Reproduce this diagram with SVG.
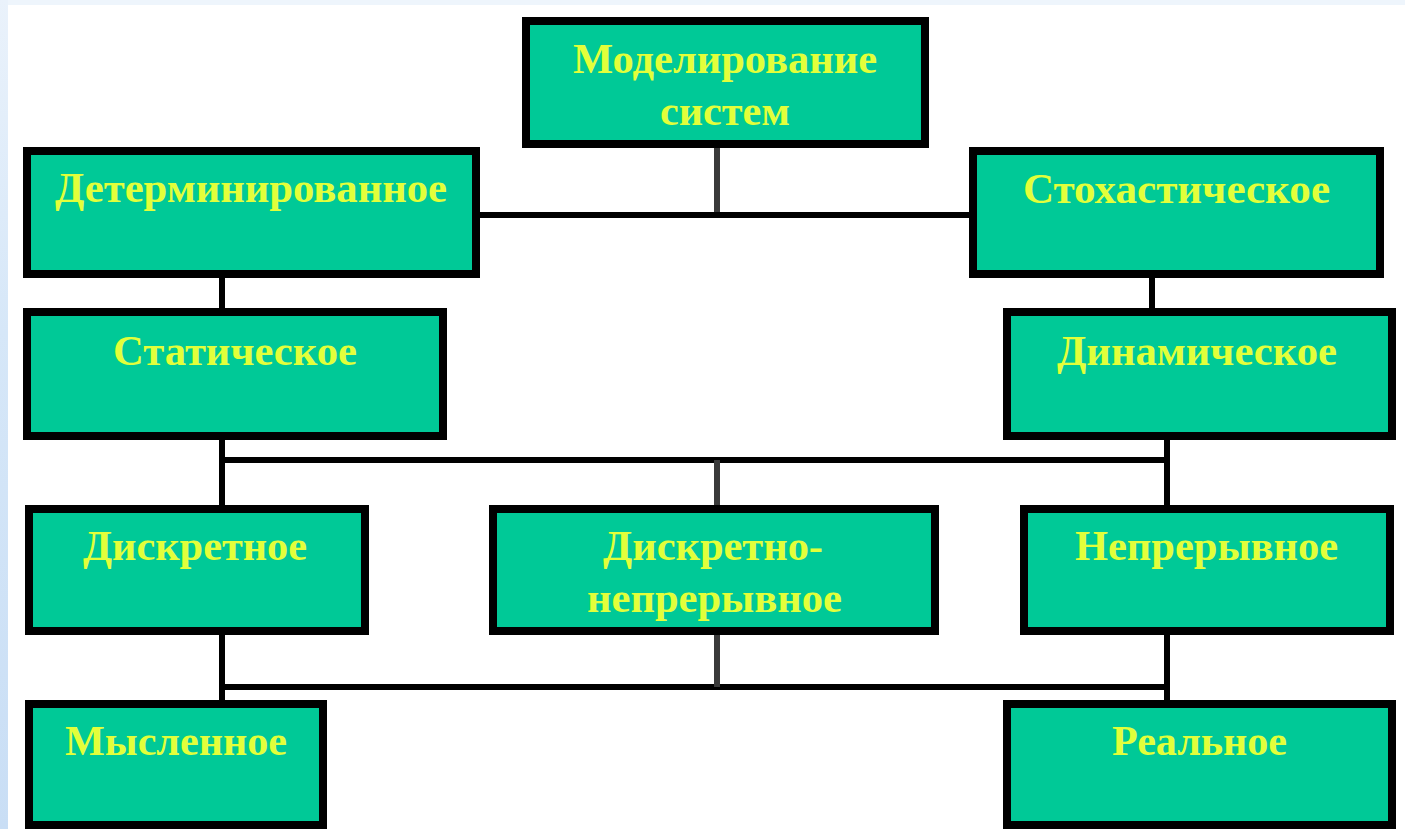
<svg xmlns="http://www.w3.org/2000/svg" width="1405" height="829" viewBox="0 0 1405 829">
<defs>
<linearGradient id="lb" x1="0" y1="0" x2="0" y2="1">
<stop offset="0" stop-color="#eaf2fb"/>
<stop offset="0.4" stop-color="#d6e7f8"/>
<stop offset="1" stop-color="#c9def5"/>
</linearGradient>
<style>
.box{fill:#00c997;stroke:#000;stroke-width:8}
.t{font-family:"Liberation Serif","Times New Roman",serif;font-weight:bold;font-size:42px;fill:#e2ff3a}
.c{stroke:#000;stroke-width:6;fill:none}
.g{stroke:#3a3a3a;stroke-width:6;fill:none}
</style>
</defs>
<rect x="0" y="0" width="1405" height="829" fill="#ffffff"/>
<rect x="0" y="0" width="1405" height="5" fill="#eef5fc"/>
<rect x="0" y="0" width="8" height="829" fill="url(#lb)"/>
<g id="connectors">
<line class="g" x1="717" y1="148" x2="717" y2="215"/>
<line class="c" x1="480" y1="215" x2="969" y2="215"/>
<line class="c" x1="222" y1="278" x2="222" y2="308"/>
<line class="c" x1="1152" y1="278" x2="1152" y2="308"/>
<line class="c" x1="222" y1="440" x2="222" y2="505"/>
<line class="c" x1="1167" y1="440" x2="1167" y2="505"/>
<line class="c" x1="222" y1="460" x2="1167" y2="460"/>
<line class="g" x1="717" y1="460" x2="717" y2="505"/>
<line class="c" x1="222" y1="635" x2="222" y2="700"/>
<line class="c" x1="1167" y1="635" x2="1167" y2="700"/>
<line class="c" x1="222" y1="687" x2="1167" y2="687"/>
<line class="g" x1="717" y1="635" x2="717" y2="687"/>
</g>
<g id="n-modelirovanie">
<rect class="box" x="526" y="21" width="399" height="123"/>
<text class="t" x="573" y="73" textLength="304" lengthAdjust="spacingAndGlyphs">Моделирование</text>
<text class="t" x="660" y="125" textLength="130" lengthAdjust="spacingAndGlyphs">систем</text>
</g>
<g id="n-determ">
<rect class="box" x="27" y="151" width="449" height="123"/>
<text class="t" x="55" y="202" textLength="392" lengthAdjust="spacingAndGlyphs">Детерминированное</text>
</g>
<g id="n-stoch">
<rect class="box" x="973" y="151" width="407" height="123"/>
<text class="t" x="1023" y="203" textLength="307" lengthAdjust="spacingAndGlyphs">Стохастическое</text>
</g>
<g id="n-static">
<rect class="box" x="27" y="312" width="416" height="124"/>
<text class="t" x="113" y="365" textLength="244" lengthAdjust="spacingAndGlyphs">Статическое</text>
</g>
<g id="n-dynamic">
<rect class="box" x="1007" y="312" width="385" height="124"/>
<text class="t" x="1057" y="365" textLength="280" lengthAdjust="spacingAndGlyphs">Динамическое</text>
</g>
<g id="n-discrete">
<rect class="box" x="29" y="509" width="336" height="122"/>
<text class="t" x="83" y="560" textLength="224" lengthAdjust="spacingAndGlyphs">Дискретное</text>
</g>
<g id="n-discrete-continuous">
<rect class="box" x="493" y="509" width="442" height="122"/>
<text class="t" x="603" y="560" textLength="220" lengthAdjust="spacingAndGlyphs">Дискретно-</text>
<text class="t" x="587" y="612" textLength="255" lengthAdjust="spacingAndGlyphs">непрерывное</text>
</g>
<g id="n-continuous">
<rect class="box" x="1024" y="509" width="366" height="122"/>
<text class="t" x="1075" y="560" textLength="263" lengthAdjust="spacingAndGlyphs">Непрерывное</text>
</g>
<g id="n-mental">
<rect class="box" x="29" y="704" width="294" height="121"/>
<text class="t" x="65" y="755" textLength="222" lengthAdjust="spacingAndGlyphs">Мысленное</text>
</g>
<g id="n-real">
<rect class="box" x="1007" y="704" width="385" height="121"/>
<text class="t" x="1112" y="755" textLength="175" lengthAdjust="spacingAndGlyphs">Реальное</text>
</g>
</svg>
